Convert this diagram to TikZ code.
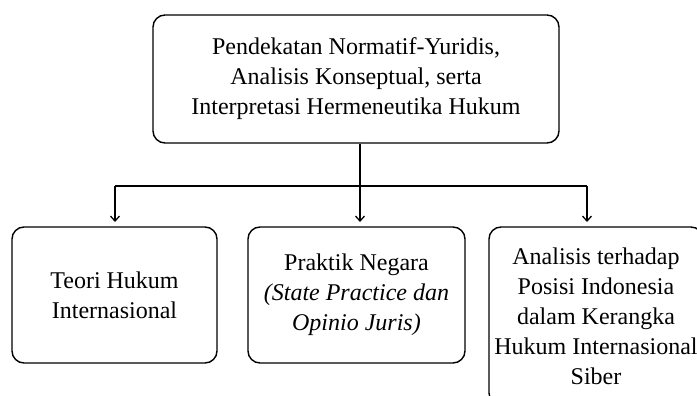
\documentclass[tikz,border=0pt]{standalone}
\usepackage{fontspec}
\setmainfont{Liberation Serif}
\usetikzlibrary{arrows.meta}
\begin{document}
\begin{tikzpicture}[x=1pt,y=-1pt,
  box/.style={draw, line width=1.4pt, rounded corners=12pt, align=center, font=\fontsize{24}{30}\selectfont},
  conn/.style={line width=1.3pt},
  arr/.style={line width=1.3pt, -{Straight Barb[length=5pt,width=9pt]}}]
\useasboundingbox (0,0) rectangle (697,396);
\clip (0,0) rectangle (697,396);
\node[box, minimum width=406pt, minimum height=128pt] (top) at (356,79)
  {Pendekatan Normatif-Yuridis,\\ Analisis Konseptual, serta\\ Interpretasi Hermeneutika Hukum};
\node[box, minimum width=205pt, minimum height=136pt] (a) at (114.5,295)
  {Teori Hukum\\ Internasional};
\node[box, minimum width=217pt, minimum height=136pt] (b) at (356.5,295)
  {Praktik Negara\\ \textit{(State Practice dan}\\ \textit{Opinio Juris)}};
\node[box, minimum width=214pt, minimum height=178pt, inner xsep=1pt] (c) at (596,316)
  {Analisis terhadap\\ Posisi Indonesia\\ dalam Kerangka\\ Hukum Internasional\\ Siber};
\coordinate (j) at (360,186);
\coordinate (jl) at (115,186);
\coordinate (jr) at (587,186);
\draw[conn] (top.south -| j) -- (j);
\draw[conn] (jl) -- (jr);
\draw[arr] (jl) -- (115,222);
\draw[arr] (j) -- (360,222);
\draw[arr] (jr) -- (587,222);
\end{tikzpicture}
\end{document}
